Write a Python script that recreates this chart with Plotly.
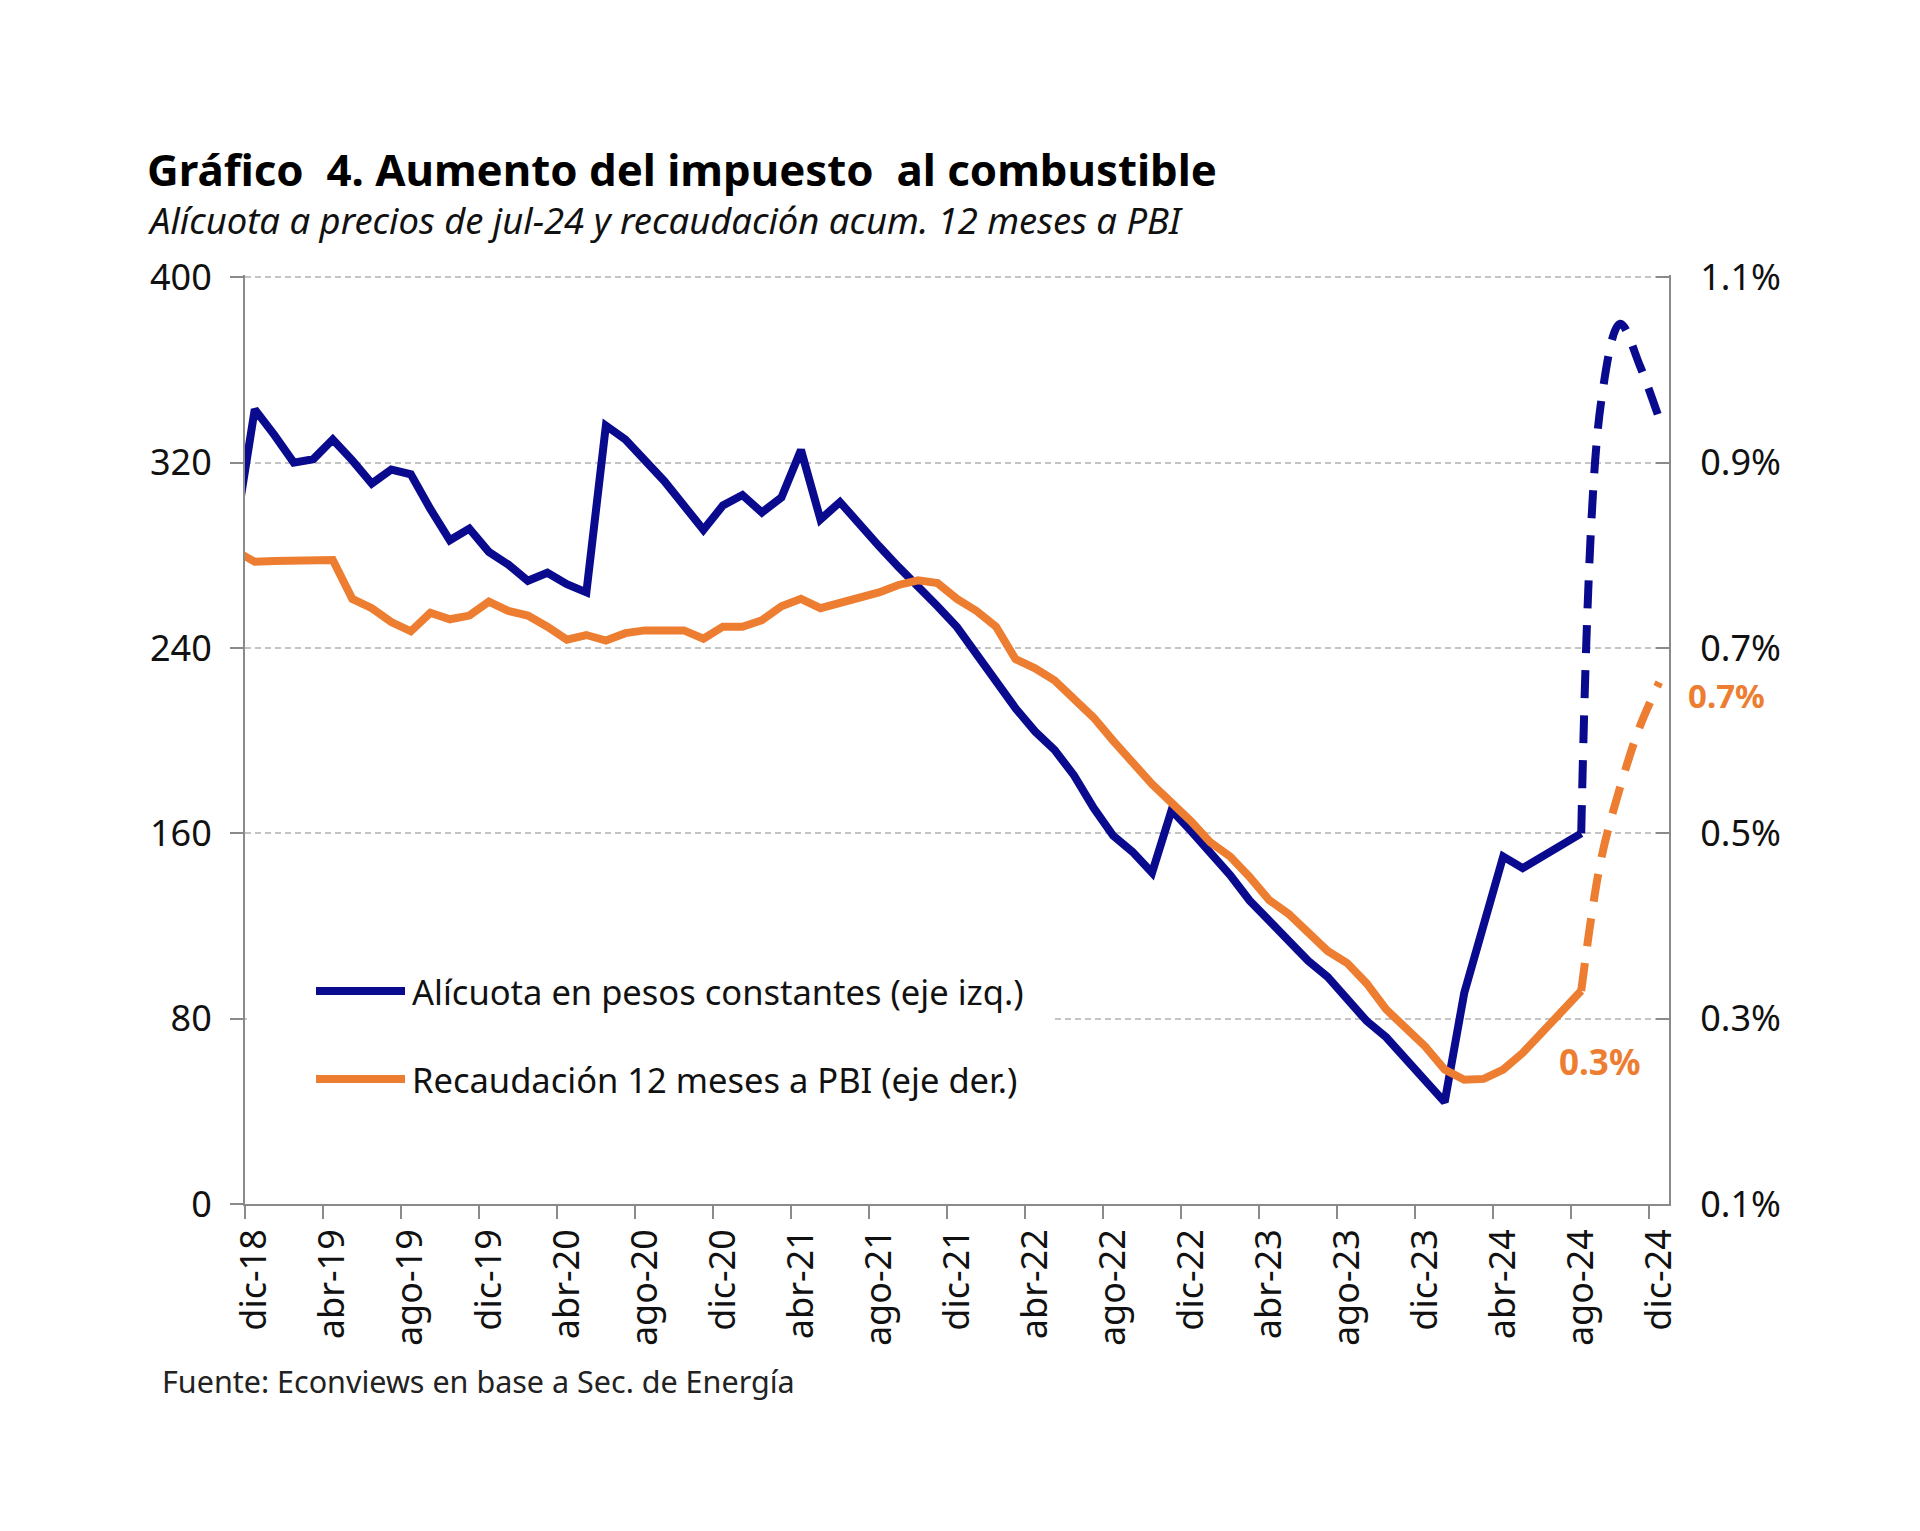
import plotly.graph_objects as go

# ---------------- data ----------------
MES = ["ene", "feb", "mar", "abr", "may", "jun", "jul", "ago", "sep", "oct", "nov", "dic"]
MONTHS = ["nov-18", "dic-18"] + [f"{m}-{y}" for y in range(19, 25) for m in MES]  # nov-18 .. dic-24

# Alícuota en pesos constantes (eje izq.), nov-18 .. ago-24
ALICUOTA = [
    290,
    343, 332, 320, 321.5, 330, 321, 311, 317, 315, 300,
    286.5, 291.5, 281.5, 276, 269, 272.5, 267.5, 264, 336, 330,
    321, 312, 301.5, 291, 301.5, 306, 298.5, 305, 325.5, 295.5,
    303, 293, 284, 275, 267, 258, 249, 237, 225, 214,
    204, 196, 185, 171, 159, 152, 143, 170, 161, 152,
    142, 131, 122, 113, 105, 98, 88, 79, 72, 63,
    54, 44, 91, 120, 150, 145, 150, 155, 160,
]
# Recaudación 12 meses a PBI (% , eje der.), nov-18 .. ago-24
RECAUDACION = [
    0.805,
    0.793, 0.794, 0.795, 0.795, 0.795, 0.753, 0.743, 0.728, 0.718, 0.738,
    0.731, 0.735, 0.750, 0.740, 0.735, 0.723, 0.709, 0.714, 0.708, 0.716,
    0.719, 0.719, 0.719, 0.710, 0.723, 0.723, 0.730, 0.745, 0.753, 0.743,
    0.748, 0.753, 0.760, 0.768, 0.773, 0.770, 0.753, 0.740, 0.723, 0.688,
    0.678, 0.665, 0.645, 0.625, 0.600, 0.575, 0.553, 0.533, 0.513, 0.490,
    0.475, 0.453, 0.428, 0.413, 0.393, 0.373, 0.360, 0.338, 0.310, 0.290,
    0.270, 0.245, 0.234, 0.235, 0.245, 0.263, 0.285, 0.308, 0.330,
]
# Proyección ago-24 .. dic-24
PROY_MONTHS = ["ago-24", "sep-24", "oct-24", "nov-24", "dic-24"]
ALICUOTA_PROY = [160, 345, 380, 362, 339]
RECAUDACION_PROY = [0.330, 0.470, 0.550, 0.615, 0.663]

TICK_LABELS = ["dic-18", "abr-19", "ago-19", "dic-19", "abr-20", "ago-20", "dic-20",
               "abr-21", "ago-21", "dic-21", "abr-22", "ago-22", "dic-22", "abr-23",
               "ago-23", "dic-23", "abr-24", "ago-24", "dic-24"]

LEFT_TICKS = [0, 80, 160, 240, 320, 400]
RIGHT_TICKS = [0.1, 0.3, 0.5, 0.7, 0.9, 1.1]
RIGHT_TICK_LABELS = ["0.1%", "0.3%", "0.5%", "0.7%", "0.9%", "1.1%"]

# ---------------- styling ----------------
BLUE = "#0A0A8E"
ORANGE = "#ED7D31"
AXIS = "#8A8A8A"
GRID = "#C4C4C4"
TXT = "#111111"
FONT = "Noto Sans"
LW = 8

# category centres: dic-18 -> 0.5, each month one unit
pos = {m: i - 0.5 for i, m in enumerate(MONTHS)}
hist_months = MONTHS[:len(ALICUOTA)]
x_hist = [pos[m] for m in hist_months]
x_proy = [pos[m] for m in PROY_MONTHS]
x_lab = [pos[m] for m in TICK_LABELS]
x_ticks = [v - 0.5 for v in x_lab]
XR = [0, 73]
YR = [0, 401]
Y2R = [0.1, 0.1 + 401 / 400]

fig = go.Figure()
fig.add_trace(go.Scatter(x=x_hist, y=ALICUOTA, mode="lines", xaxis="x", yaxis="y",
                         line=dict(color=BLUE, width=LW), name="Alícuota en pesos constantes (eje izq.)"))
fig.add_trace(go.Scatter(x=x_proy, y=ALICUOTA_PROY, mode="lines", xaxis="x", yaxis="y",
                         line=dict(color=BLUE, width=LW, dash="28px,17px", shape="spline", smoothing=1.0),
                         name="proy alícuota"))
fig.add_trace(go.Scatter(x=x_hist, y=RECAUDACION, mode="lines", xaxis="x2", yaxis="y2",
                         line=dict(color=ORANGE, width=LW), name="Recaudación 12 meses a PBI (eje der.)"))
fig.add_trace(go.Scatter(x=x_proy, y=RECAUDACION_PROY, mode="lines", xaxis="x2", yaxis="y2",
                         line=dict(color=ORANGE, width=LW, dash="28px,17px", shape="spline", smoothing=1.0),
                         name="proy recaudación"))

L, R, T, B = 245, 251, 275, 327
W, H = 1920, 1531
PW, PH = W - L - R, H - T - B


def px(xp):
    return (xp - L) / PW


def py(yp):
    return (H - B - yp) / PH


fig.update_layout(
    width=W, height=H, autosize=False,
    margin=dict(l=L, r=R, t=T, b=B, pad=0),
    paper_bgcolor="white", plot_bgcolor="white",
    showlegend=False,
    font=dict(family=FONT, color=TXT, size=36),
    xaxis=dict(range=XR, tickmode="array", tickvals=x_ticks, showticklabels=False,
               ticks="outside", ticklen=13, tickwidth=2, tickcolor=AXIS,
               showline=True, linecolor=AXIS, linewidth=2, showgrid=False, zeroline=False),
    xaxis2=dict(range=XR, overlaying="x", anchor="y2", side="bottom",
                tickmode="array", tickvals=x_lab, ticktext=TICK_LABELS, tickangle=-90,
                ticks="", showline=False, showgrid=False, zeroline=False,
                tickfont=dict(family=FONT, size=36, color=TXT), ticklabelstandoff=17),
    yaxis=dict(range=YR, tickmode="array", tickvals=LEFT_TICKS,
               ticks="outside", ticklen=13, tickwidth=2, tickcolor=AXIS,
               showline=True, linecolor=AXIS, linewidth=2,
               showgrid=True, gridcolor=GRID, gridwidth=1.5, griddash="6px,4px", zeroline=False,
               tickfont=dict(family=FONT, size=36, color=TXT), ticklabelstandoff=11),
    yaxis2=dict(range=Y2R, overlaying="y", anchor="x2", side="right",
                tickmode="array", tickvals=RIGHT_TICKS, ticktext=RIGHT_TICK_LABELS,
                ticks="inside", ticklen=13, tickwidth=2, tickcolor=AXIS,
                showline=True, linecolor=AXIS, linewidth=2, showgrid=False, zeroline=False,
                tickfont=dict(family=FONT, size=36, color=TXT), ticklabelstandoff=22),
)

# legend (drawn manually to match the long line samples)
shapes = [
    dict(type="rect", xref="paper", yref="paper", x0=px(L + 2), x1=px(1053), y0=py(1125), y1=py(955),
         fillcolor="white", line=dict(width=0), layer="above"),
    dict(type="line", xref="paper", yref="paper", x0=px(316), x1=px(405), y0=py(991), y1=py(991),
         line=dict(color=BLUE, width=LW), layer="above"),
    dict(type="line", xref="paper", yref="paper", x0=px(316), x1=px(405), y0=py(1079), y1=py(1079),
         line=dict(color=ORANGE, width=LW), layer="above"),
]
fig.update_layout(shapes=shapes)

ann = [
    dict(text="<b>Gráfico  4. Aumento del impuesto  al combustible</b>", x=px(145), y=py(169),
         font=dict(size=43.8, color="#000000", family=FONT)),
    dict(text="<i>Alícuota a precios de jul-24 y recaudación acum. 12 meses a PBI</i>", x=px(145), y=py(220),
         font=dict(size=36.4, color=TXT, family=FONT)),
    dict(text="Alícuota en pesos constantes (eje izq.)", x=px(410), y=py(991),
         font=dict(size=34.5, color=TXT, family=FONT)),
    dict(text="Recaudación 12 meses a PBI (eje der.)", x=px(410), y=py(1079),
         font=dict(size=34.5, color=TXT, family=FONT)),
    dict(text="Fuente: Econviews en base a Sec. de Energía", x=px(160), y=py(1381),
         font=dict(size=30.5, color="#222222", family=FONT)),
]
for a in ann:
    a.update(xref="paper", yref="paper", xanchor="left", yanchor="middle", showarrow=False)
ann += [
    dict(text="<b>0.7%</b>", x=px(1727), y=py(695), xref="paper", yref="paper", xanchor="center",
         yanchor="middle", showarrow=False, font=dict(size=33, color=ORANGE, family=FONT)),
    dict(text="<b>0.3%</b>", x=px(1599), y=py(1061), xref="paper", yref="paper", xanchor="center",
         yanchor="middle", showarrow=False, font=dict(size=35, color=ORANGE, family=FONT)),
]
fig.update_layout(annotations=ann)

fig.write_html("out.html", config={"displayModeBar": False},
               post_script="document.body.style.margin='0px';document.body.style.overflow='hidden';")
